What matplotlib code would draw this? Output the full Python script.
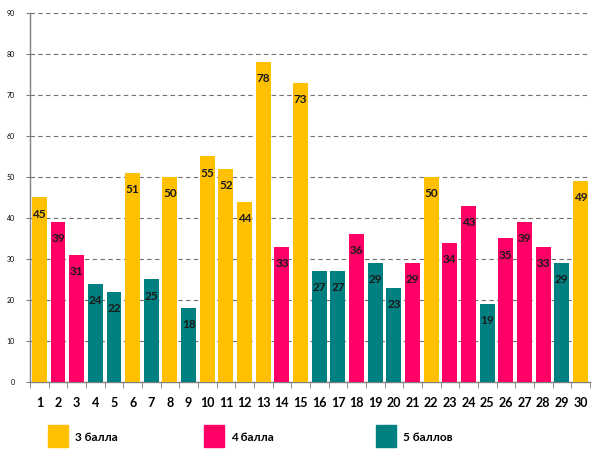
import matplotlib
matplotlib.use('Agg')
import matplotlib.pyplot as plt
import matplotlib.patches as mpatches
import numpy as np

# Data
students = list(range(1, 31))
scores = [45, 39, 31, 24, 22, 51, 25, 50, 18, 55, 52, 44, 78, 33, 73,
          27, 27, 36, 29, 23, 29, 50, 34, 43, 19, 35, 39, 33, 29, 49]
grades = [3, 4, 4, 5, 5, 3, 5, 3, 5, 3, 3, 3, 3, 4, 3,
          5, 5, 4, 5, 5, 4, 3, 4, 4, 5, 4, 4, 4, 5, 3]
legend_labels = ['3 балла', '4 балла', '5 баллов']
grade_colors = {3: '#FFC000', 4: '#FF0066', 5: '#008080'}

plt.rcParams['font.family'] = ['Lato', 'DejaVu Sans']

fig = plt.figure(figsize=(5.94, 4.61), dpi=100)
ax = fig.add_axes([0.0505, 0.1714, 0.9425, 0.8006])

x = np.arange(len(students))
colors = [grade_colors[g] for g in grades]
ax.bar(x, scores, width=0.8, color=colors, zorder=3)

# Value labels inside top of each bar
for xi, v in zip(x, scores):
    ax.annotate(str(v), (xi, v), xytext=(0, -8), textcoords='offset points',
                ha='center', va='top', fontsize=8.5, fontweight='bold',
                color='#1a1a1a', zorder=4)

ax.set_xlim(-0.5, len(students) - 0.5)
ax.set_ylim(0, 90)
ax.set_yticks(range(0, 91, 10))
ax.tick_params(axis='y', labelsize=5, length=3, color='#808080', pad=8)
ax.set_xticks(x)
ax.set_xticklabels([str(s) for s in students], fontsize=9, fontweight='bold')
ax.tick_params(axis='x', length=0, pad=11)
ax.set_xticks(np.arange(-0.5, len(students)), minor=True)
ax.tick_params(axis='x', which='minor', length=4, color='#808080')

ax.yaxis.grid(True, linestyle=(0, (4, 3)), color='#707070', linewidth=0.8, zorder=0)
for side in ['top', 'right']:
    ax.spines[side].set_visible(False)
for side in ['left', 'bottom']:
    ax.spines[side].set_color('#808080')
    ax.spines[side].set_linewidth(1.0)

# Legend drawn below the chart
legend_x = [48, 204, 376]
for lx, lab, g in zip(legend_x, legend_labels, [3, 4, 5]):
    fig.patches.append(mpatches.Rectangle((lx / 594, 1 - 447 / 461), 20 / 594, 22 / 461,
                                          transform=fig.transFigure, color=grade_colors[g]))
    fig.text((lx + 27) / 594, 1 - 437 / 461, lab, fontsize=8.5, fontweight='bold',
             va='center', ha='left')

fig.savefig('out.png', dpi=100)
